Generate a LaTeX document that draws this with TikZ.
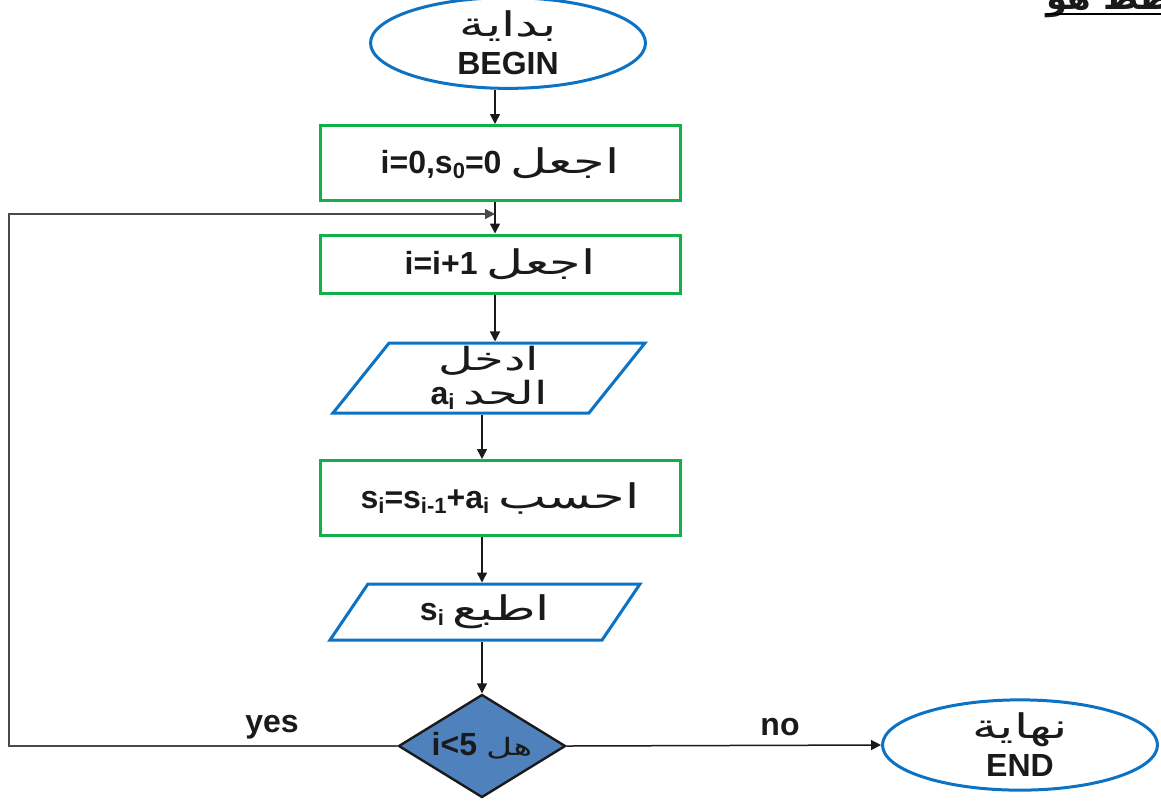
\documentclass[tikz,border=0pt]{standalone}
\usepackage{fontspec}
\setmainfont{Liberation Sans}
\newfontfamily\arabicfont[Script=Arabic]{DejaVu Sans}
\TeXXeTstate=1
\usetikzlibrary{
  arrows.meta,
  calc,
  positioning,
  shapes.geometric
}
\definecolor{flowInk}{HTML}{1A1A1A}
\definecolor{flowLine}{HTML}{4A4A4A}
\definecolor{flowBlue}{HTML}{0B72C4}
\definecolor{flowGreen}{HTML}{12B04A}
\definecolor{flowSteel}{HTML}{4F81BD}
\newcommand\arword[2][17]{\scalebox{1.5}[1]{\arabicfont\mdseries\fontsize{#1}{#1}\selectfont\beginR#2\endR}}
\newcommand\lowidx[1]{\raisebox{-0.3ex}{\fontsize{11}{11}\selectfont #1}}
\tikzset{
  every node/.style={font=\bfseries\fontsize{16}{19}\selectfont, text=flowInk},
  terminal/.style={
    ellipse,
    draw=flowBlue,
    line width=1.5pt,
    minimum width=137.5pt,
    minimum height=36pt,
    inner sep=0pt,
    align=center
  },
  process/.style={
    rectangle,
    draw=flowGreen,
    line width=1.5pt,
    minimum width=180pt,
    minimum height=37.5pt,
    inner sep=0pt
  },
  io/.style={
    trapezium,
    trapezium stretches body,
    draw=flowBlue,
    line width=1.5pt,
    inner sep=0pt,
    align=center
  },
  decision/.style={
    diamond,
    aspect=1.6,
    draw=flowInk,
    fill=flowSteel,
    line width=1.2pt,
    minimum width=83.5pt,
    minimum height=51.5pt,
    inner sep=0pt
  },
  link/.style={
    -{Triangle[length=5pt,width=5pt]},
    line width=0.75pt,
    draw=flowInk
  },
  backlink/.style={
    link,
    draw=flowLine
  }
}

\begin{document}
\begin{tikzpicture}[x=0.5pt,y=-0.5pt]
  \useasboundingbox (0,0) rectangle (1161,800);
  \clip (0,0) rectangle (1161,800);

  % heading cut off by the page edge
  \node[anchor=base west, inner sep=0pt, font=\fontsize{17}{17}\selectfont] (heading) at (1046,9)
    {{\arabicfont\bfseries\beginR المخطط هو\endR}};
  \draw[line width=1.3pt] ([yshift=-2.5pt]heading.base west) -- ([yshift=-2.5pt]heading.base east);

  % blocks
  \node[terminal] (begin) at (508,43) {\arword{بداية}\\BEGIN};
  \node[process] (init) at (500,163) {i=0,s\lowidx{0}=0 \arword{اجعل}};
  \node[process, minimum height=29pt] (step) at (500,264) {i=i+1 \arword{اجعل}};
  \node[io, trapezium left angle=48.5, trapezium right angle=131.5,
        minimum width=156pt, minimum height=35pt,
        font=\bfseries\fontsize{16}{17}\selectfont] (input) at (489,378)
    {\arword[16]{ادخل}\\a\lowidx{i} \arword[16]{الحد}};
  \node[process] (sum) at (500,498) {s\lowidx{i}=s\lowidx{i-1}+a\lowidx{i} \arword{احسب}};
  \node[io, trapezium left angle=42, trapezium right angle=138,
        minimum width=155pt, minimum height=28pt] (print) at (485,612)
    {s\lowidx{i} \arword{اطبع}};
  \node[decision] (test) at (482,746) {i<5 \arword[12]{هل}};
  \node[terminal, minimum height=37.5pt] (end) at (1020,745) {\arword{نهاية}\\END};

  \coordinate (spine) at (495,0);
  \coordinate (join) at (495,214);
  \coordinate (loopedge) at (9,0);

  % connectors
  \draw[link] (spine |- begin.south) -- (spine |- init.north);
  \draw[link] (spine |- init.south) -- (spine |- step.north);
  \draw[link] (spine |- step.south) -- (spine |- input.north);
  \draw[link] (test.north |- input.south) -- (test.north |- sum.north);
  \draw[link] (test.north |- sum.south) -- (test.north |- print.north);
  \draw[link] (test.north |- print.south) -- (test.north);
  \draw[backlink] (test.west) -- (test.west -| loopedge) |- (join);
  \draw[link] (test.east) -- (end.west);

  \node (yes) at (272,727) {yes};
  \node (no) at (780,727) {no};
\end{tikzpicture}
\end{document}
